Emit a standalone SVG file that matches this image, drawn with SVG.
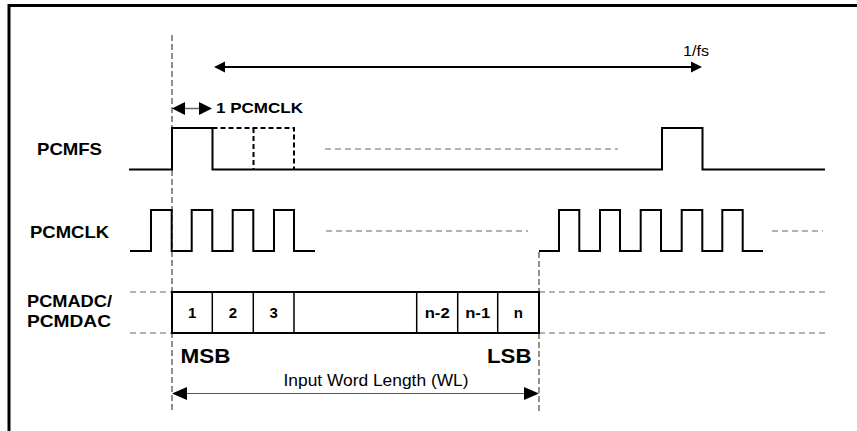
<svg xmlns="http://www.w3.org/2000/svg" width="857" height="431" viewBox="0 0 857 431">
<style>
.wave{fill:none;stroke:#000;stroke-width:2;stroke-linejoin:miter}
.guide{fill:none;stroke:#222;stroke-width:1;stroke-dasharray:6,3}
.gdash{fill:none;stroke:#666;stroke-width:1;stroke-dasharray:6,4}
.dbox{fill:none;stroke:#000;stroke-width:2;stroke-dasharray:5,3}
.lbl{font-family:"Liberation Sans",Arial,sans-serif;font-weight:bold;fill:#000}
.reg{font-family:"Liberation Sans",Arial,sans-serif;fill:#000}
.ah{fill:#000;stroke:none}
</style>
<rect width="857" height="431" fill="#fff"/>
<g id="frame">
<line x1="8" y1="5.5" x2="857" y2="5.5" stroke="#000" stroke-width="3"/>
<line x1="9" y1="4" x2="9" y2="431" stroke="#000" stroke-width="3"/>
</g>
<g id="connectors">
<line class="guide" x1="172" y1="35" x2="172" y2="413"/>
<line class="guide" x1="539" y1="252" x2="539" y2="413"/>
<line x1="222" y1="67" x2="693" y2="67" stroke="#000" stroke-width="2"/>
<polygon class="ah" points="214,67 225,61.5 225,72.5"/>
<polygon class="ah" points="702,67 691,61.5 691,72.5"/>
<line x1="183" y1="108.5" x2="201" y2="108.5" stroke="#666" stroke-width="1.5"/>
<polygon class="ah" points="172,108.5 185,102 185,115"/>
<polygon class="ah" points="212,108.5 199,102 199,115"/>
<line x1="185" y1="393.5" x2="526" y2="393.5" stroke="#555" stroke-width="1.2"/>
<polygon class="ah" points="172,393.5 187,387 187,400"/>
<polygon class="ah" points="539,393.5 524,387 524,400"/>
</g>
<g id="pcmfs">
<text class="lbl" x="37" y="155" font-size="17" textLength="65" lengthAdjust="spacingAndGlyphs">PCMFS</text>
<polyline class="wave" points="129,169.5 172,169.5 172,128 212.5,128 212.5,169.5 662,169.5 662,128 702.5,128 702.5,169.5 825,169.5"/>
<polyline class="dbox" points="212.5,128 294,128 294,169.5"/>
<line class="dbox" x1="253.5" y1="128" x2="253.5" y2="169.5"/>
<line class="gdash" x1="325" y1="149" x2="618" y2="149"/>
<text class="lbl" x="216" y="113" font-size="15" textLength="87" lengthAdjust="spacingAndGlyphs">1 PCMCLK</text>
<text class="reg" x="683" y="56" font-size="15" textLength="26" lengthAdjust="spacingAndGlyphs">1/fs</text>
</g>
<g id="pcmclk">
<text class="lbl" x="30" y="238" font-size="17" textLength="79" lengthAdjust="spacingAndGlyphs">PCMCLK</text>
<polyline class="wave" points="130,251 151,251 151,210 171.7,210 171.7,251 191.7,251 191.7,210 212.3,210 212.3,251 232.7,251 232.7,210 253.3,210 253.3,251 274,251 274,210 294,210 294,251 315,251"/>
<line class="gdash" x1="326" y1="231" x2="528" y2="231"/>
<polyline class="wave" points="539,251 559,251 559,210 579.3,210 579.3,251 600,251 600,210 620,210 620,251 640.7,251 640.7,210 661,210 661,251 681.7,251 681.7,210 702.3,210 702.3,251 722.3,251 722.3,210 742.7,210 742.7,251 763,251"/>
<line class="gdash" x1="772" y1="231" x2="823" y2="231"/>
</g>
<g id="pcmadc">
<text class="lbl" x="27" y="307" font-size="17" textLength="85" lengthAdjust="spacingAndGlyphs">PCMADC/</text>
<text class="lbl" x="27" y="327" font-size="17" textLength="84" lengthAdjust="spacingAndGlyphs">PCMDAC</text>
<line class="gdash" x1="130" y1="292" x2="172" y2="292"/>
<line class="gdash" x1="130" y1="333" x2="172" y2="333"/>
<line class="gdash" x1="539" y1="292" x2="825" y2="292"/>
<line class="gdash" x1="539" y1="333" x2="825" y2="333"/>
<rect x="172" y="292" width="367" height="41" fill="none" stroke="#000" stroke-width="2"/>
<g stroke="#000" stroke-width="1.5">
<line x1="212.3" y1="292" x2="212.3" y2="333"/>
<line x1="253.3" y1="292" x2="253.3" y2="333"/>
<line x1="294" y1="292" x2="294" y2="333"/>
<line x1="416.7" y1="292" x2="416.7" y2="333"/>
<line x1="457.7" y1="292" x2="457.7" y2="333"/>
<line x1="497.7" y1="292" x2="497.7" y2="333"/>
</g>
<g class="lbl" font-size="15" text-anchor="middle">
<text x="192.2" y="318">1</text>
<text x="232.8" y="318">2</text>
<text x="273.6" y="318">3</text>
<text x="437.2" y="318" textLength="25" lengthAdjust="spacingAndGlyphs">n-2</text>
<text x="477.7" y="318" textLength="25" lengthAdjust="spacingAndGlyphs">n-1</text>
<text x="518.3" y="318">n</text>
</g>
<text class="lbl" x="180.5" y="363" font-size="21" textLength="50" lengthAdjust="spacingAndGlyphs">MSB</text>
<text class="lbl" x="487" y="363" font-size="21" textLength="44.5" lengthAdjust="spacingAndGlyphs">LSB</text>
<text class="reg" x="283.5" y="386" font-size="16" textLength="185" lengthAdjust="spacingAndGlyphs">Input Word Length (WL)</text>
</g>
</svg>
